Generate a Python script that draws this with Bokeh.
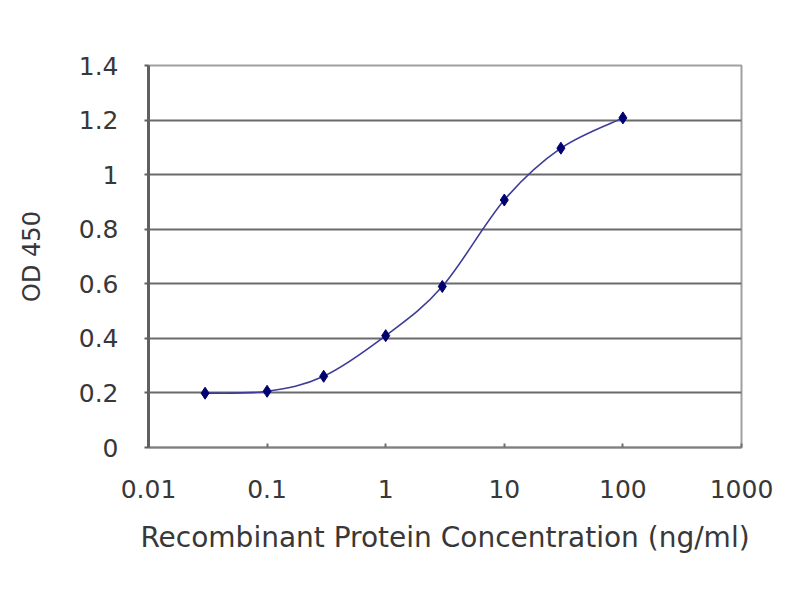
import numpy as np
from bokeh.plotting import figure
from bokeh.models import FixedTicker, ColumnDataSource
from bokeh.embed import file_html
from bokeh.resources import INLINE

# concentracion (ng/ml) y lectura OD 450
conc = [0.03, 0.1, 0.3, 1, 3, 10, 30, 100]
od450 = [0.199, 0.206, 0.261, 0.41, 0.59, 0.907, 1.097, 1.208]

x_ticks = [0.01, 0.1, 1, 10, 100, 1000]
x_labels = ["0.01", "0.1", "1", "10", "100", "1000"]
y_ticks = [0, 0.2, 0.4, 0.6, 0.8, 1, 1.2, 1.4]
y_labels = ["0", "0.2", "0.4", "0.6", "0.8", "1", "1.2", "1.4"]

TEXT = "#383838"
FONT = "DejaVu Sans"

p = figure(width=780, height=580, x_axis_type="log", x_range=(0.01, 1000), y_range=(0, 1.4),
           output_backend="svg", toolbar_location=None, tools="")
p.min_border_left = 148
p.min_border_top = 65
p.min_border_bottom = 133
p.min_border_right = 39
p.background_fill_color = "white"
p.border_fill_color = "white"
p.outline_line_color = "#a0a0a0"
p.outline_line_width = 2

# ejes
p.xaxis.ticker = FixedTicker(ticks=x_ticks)
p.xaxis.major_label_overrides = {t: l for t, l in zip(x_ticks, x_labels)}
p.xaxis.minor_tick_line_color = None
p.xaxis.major_tick_in = 4
p.xaxis.major_tick_out = 0
p.xaxis.axis_line_color = "#808080"
p.xaxis.axis_line_width = 2
p.xaxis.major_tick_line_color = "#707070"
p.xaxis.major_tick_line_width = 2
p.xaxis.axis_label = "Recombinant Protein Concentration (ng/ml)"

p.yaxis.ticker = FixedTicker(ticks=y_ticks)
p.yaxis.major_label_overrides = {t: l for t, l in zip(y_ticks, y_labels)}
p.yaxis.minor_tick_line_color = None
p.yaxis.major_tick_in = 0
p.yaxis.major_tick_out = 4
p.yaxis.axis_line_color = "#606060"
p.yaxis.axis_line_width = 3
p.yaxis.major_tick_line_color = "#606060"
p.yaxis.major_tick_line_width = 2
p.yaxis.axis_label = "OD 450"

for ax in (p.xaxis, p.yaxis):
    ax.major_label_text_font = FONT
    ax.major_label_text_font_size = "25px"
    ax.major_label_text_color = TEXT
    ax.axis_label_text_font = FONT
    ax.axis_label_text_font_style = "normal"
    ax.axis_label_text_color = TEXT
p.xaxis.axis_label_text_font_size = "28px"
p.yaxis.axis_label_text_font_size = "24px"
p.xaxis.major_label_standoff = 32
p.yaxis.major_label_standoff = 26
p.xaxis.axis_label_standoff = 20
p.yaxis.axis_label_standoff = 30

p.xgrid.grid_line_color = None
p.ygrid.ticker = FixedTicker(ticks=y_ticks)
p.ygrid.grid_line_color = "#6a6a6a"
p.ygrid.grid_line_width = 2

# curva suavizada tipo Excel: bezier por tramos en espacio (log x, y)
lx = np.log10(conc)
ly = np.array(od450)
n = len(lx)
prev = np.r_[0, np.arange(n - 1)]
nxt = np.r_[np.arange(1, n), n - 1]
cx0 = lx[:-1] + (lx[1:] - lx[prev[:-1]]) / 6
cy0 = ly[:-1] + (ly[1:] - ly[prev[:-1]]) / 6
cx1 = lx[1:] - (lx[nxt[1:]] - lx[:-1]) / 6
cy1 = ly[1:] - (ly[nxt[1:]] - ly[:-1]) / 6
seg = ColumnDataSource(dict(
    x0=conc[:-1], y0=od450[:-1], x1=conc[1:], y1=od450[1:],
    cx0=10 ** cx0, cy0=cy0, cx1=10 ** cx1, cy1=cy1))
p.bezier(x0="x0", y0="y0", x1="x1", y1="y1", cx0="cx0", cy0="cy0", cx1="cx1", cy1="cy1",
         source=seg, line_color="#3d3d99", line_width=1.6)

p.scatter(conc, od450, marker="diamond", size=12, fill_color="#000070", line_color="#000070")

open("out.html", "w").write(file_html(p, INLINE))
